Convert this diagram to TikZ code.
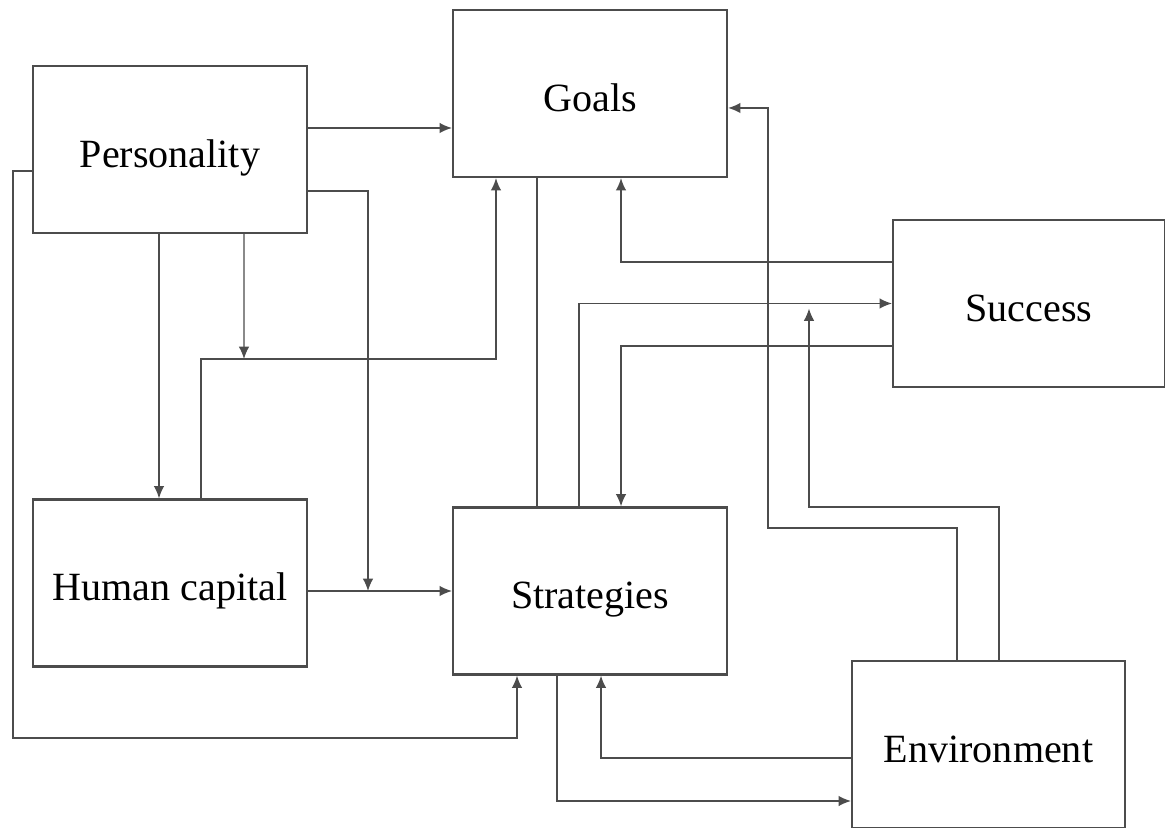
\documentclass[tikz,border=0pt]{standalone}
\usepackage{fontspec}
\setmainfont{Liberation Serif}
\usetikzlibrary{arrows.meta}

\begin{document}
\begin{tikzpicture}[box/.style={draw=black!70, line width=1.3pt, minimum width=5.48cm, minimum height=3.34cm, inner sep=0pt, text height=20pt, text depth=0pt, font=\fontsize{22.8}{27}\selectfont},
link/.style={draw=black!70, line width=0.8pt},
arr/.style={link, -{Latex[length=7pt,width=6pt]}}]
\useasboundingbox (0,0) rectangle (23.3,16.54);
\node[box] (Pers) at (3.40,13.55) {Personality};
\node[box] (Goal) at (11.80,14.67) {Goals};
\node[box, minimum width=5.44cm] (Succ) at (20.58,10.47) {Success};
\node[box] (Hum) at (3.40,4.88) {Human capital};
\node[box] (Strat) at (11.80,4.72) {Strategies};
\node[box, minimum width=5.46cm] (Env) at (19.77,1.65) {Environment};

%bends and junctions
\coordinate (J1) at (7.36,4.72);
\coordinate (J2) at (4.88,9.36);
\coordinate (J3) at (16.18,10.47);
\coordinate (L1) at (0.26,1.78);
\coordinate (E1) at (15.36,5.98);
\coordinate (E2) at (16.18,6.40);

%personality
\draw[arr] ([yshift=0.43cm]Pers.east) -- ([yshift=-0.69cm]Goal.west);
\draw[arr] ([yshift=-0.83cm]Pers.east) -| (J1);
\draw[arr] ([xshift=-0.22cm]Pers.south) -- ([xshift=-0.22cm]Hum.north);
\draw[arr] ([xshift=1.48cm]Pers.south) -- (J2);
\draw[arr] ([yshift=-0.43cm]Pers.west) -| (L1) -| ([xshift=-1.46cm]Strat.south);

%human capital
\draw[arr] ([xshift=0.62cm]Hum.north) |- (J2) -| ([xshift=-1.88cm]Goal.south);
\draw[arr] (Hum.east |- Strat.west) -- (Strat.west);

%goals, strategies, success
\draw[link] ([xshift=-1.06cm]Goal.south) -- ([xshift=-1.06cm]Strat.north);
\draw[arr] ([xshift=-0.22cm]Strat.north) |- (Succ.west);
\draw[arr] ([yshift=0.83cm]Succ.west) -| ([xshift=0.62cm]Goal.south);
\draw[arr] ([yshift=-0.85cm]Succ.west) -| ([xshift=0.62cm]Strat.north);

%environment
\draw[arr] ([xshift=-0.63cm]Env.north) |- (E1) |- ([yshift=-0.29cm]Goal.east);
\draw[arr] ([xshift=0.21cm]Env.north) |- (E2) -- ([yshift=-0.1cm]J3);
\draw[arr] ([yshift=-0.27cm]Env.west) -| ([xshift=0.22cm]Strat.south);
\draw[arr] ([xshift=-0.66cm]Strat.south) |- ([yshift=-1.13cm]Env.west);
\end{tikzpicture}
\end{document}
